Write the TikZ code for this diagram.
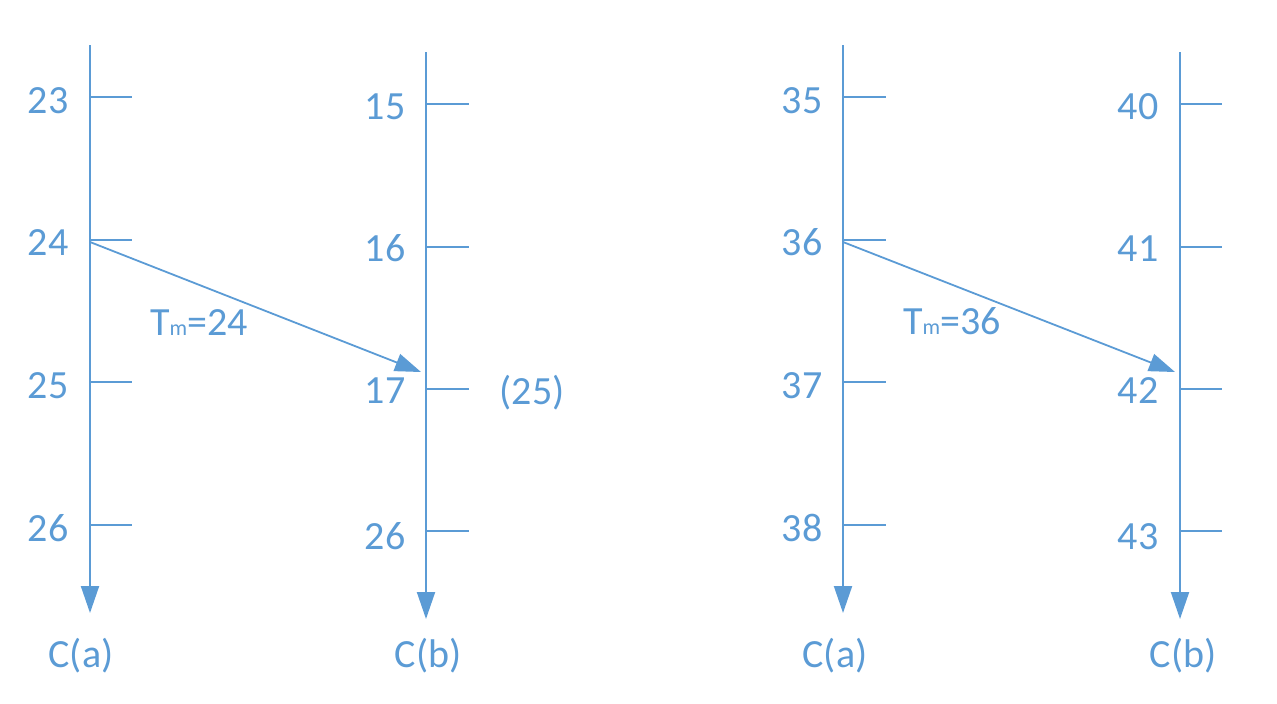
\documentclass[tikz,border=0pt]{standalone}
\usepackage{fontspec}
\setmainfont{Carlito}
\usetikzlibrary{arrows.meta}
\definecolor{ink}{HTML}{5B9BD5}
\tikzset{
  axis/.style={draw=ink, line width=1pt, -{Triangle[length=13.5pt,width=9pt]}},
  msg/.style={draw=ink, line width=0.9pt, -{Triangle[length=13pt,width=9pt]}},
  tick/.style={draw=ink, line width=1pt},
  lbl/.style={text=ink, anchor=base, inner sep=0pt, font=\fontsize{20}{24}\selectfont},
}
\newcommand{\Tm}[1]{T{\fontsize{11}{13}\selectfont m}=#1}
\begin{document}
\begin{tikzpicture}[x=0.5pt,y=-0.5pt]
\useasboundingbox (0,0) rectangle (1277,703);
% ---------- left group ----------
\coordinate (a1top) at (90,45);  \coordinate (a1bot) at (90,613);
\coordinate (b1top) at (426,52); \coordinate (b1bot) at (426,619);
\draw[axis] (a1top) -- (a1bot);
\draw[axis] (b1top) -- (b1bot);
\foreach \y in {97,240,382,525} \draw[tick] (90,\y) -- (132,\y);
\foreach \y in {104,247,389,531} \draw[tick] (426,\y) -- (469,\y);
\node[lbl] (a1l1) at (48,113) {23};
\node[lbl] (a1l2) at (48,255) {24};
\node[lbl] (a1l3) at (48,398) {25};
\node[lbl] (a1l4) at (48,541) {26};
\node[lbl] (b1l1) at (385,119) {15};
\node[lbl] (b1l2) at (385,261) {16};
\node[lbl] (b1l3) at (385,403) {17};
\node[lbl] (b1l4) at (385,549) {26};
\node[lbl] (b1x) at (532,404) {(25)};
\node[lbl] (ca1) at (81,667) {C(a)};
\node[lbl] (cb1) at (428,667) {C(b)};
\coordinate (s1) at (90,242); \coordinate (r1) at (421,372);
\draw[msg] (s1) -- (r1);
\node[lbl] (tm1) at (199,335) {\Tm{24}};
% ---------- right group ----------
\coordinate (a2top) at (843,45);  \coordinate (a2bot) at (843,613);
\coordinate (b2top) at (1180,52); \coordinate (b2bot) at (1180,619);
\draw[axis] (a2top) -- (a2bot);
\draw[axis] (b2top) -- (b2bot);
\foreach \y in {97,240,382,525} \draw[tick] (843,\y) -- (886,\y);
\foreach \y in {104,247,389,531} \draw[tick] (1180,\y) -- (1222,\y);
\node[lbl] (a2l1) at (802,113) {35};
\node[lbl] (a2l2) at (802,255) {36};
\node[lbl] (a2l3) at (802,398) {37};
\node[lbl] (a2l4) at (802,541) {38};
\node[lbl] (b2l1) at (1138,119) {40};
\node[lbl] (b2l2) at (1138,261) {41};
\node[lbl] (b2l3) at (1138,403) {42};
\node[lbl] (b2l4) at (1138,549) {43};
\node[lbl] (ca2) at (835,667) {C(a)};
\node[lbl] (cb2) at (1183,667) {C(b)};
\coordinate (s2) at (843,242); \coordinate (r2) at (1175,372);
\draw[msg] (s2) -- (r2);
\node[lbl] (tm2) at (952,334) {\Tm{36}};
\end{tikzpicture}
\end{document}
